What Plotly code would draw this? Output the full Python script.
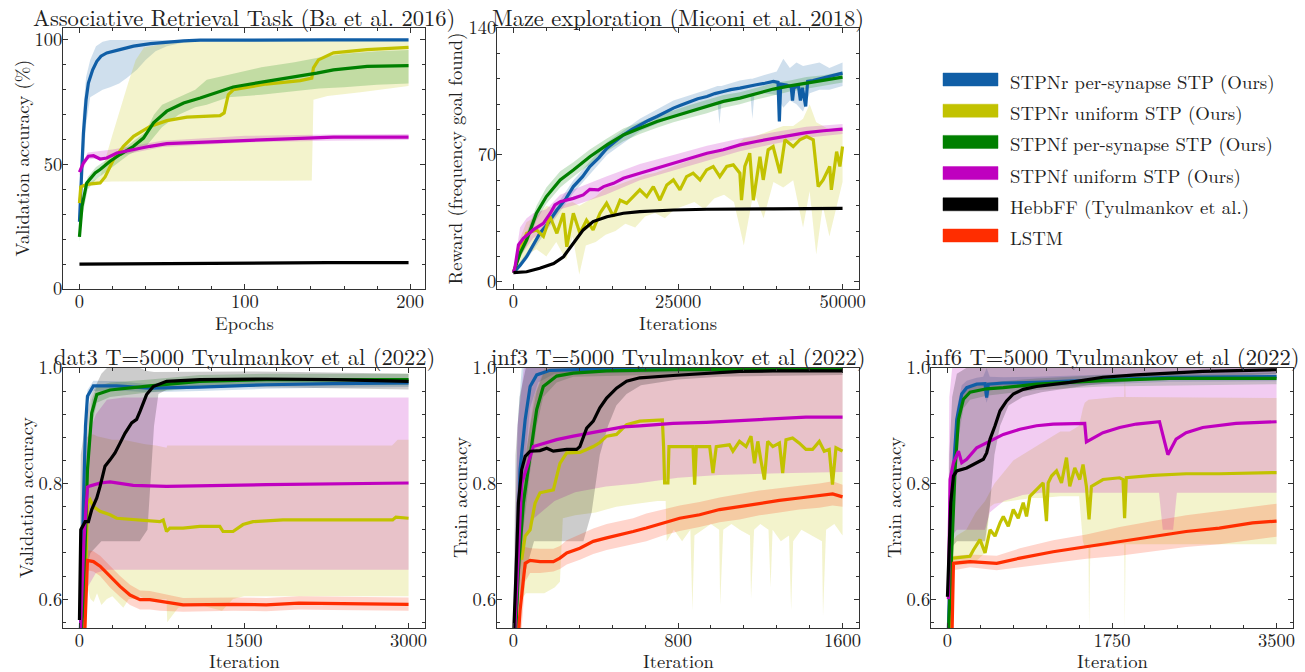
import plotly.graph_objects as go

# ---------------- colours / fonts ----------------
FONT = "Latin Modern Roman"
TXT = "#222222"
AX = "#333333"
C_BLUE = "#105ea6"
C_YEL = "#c2c200"
C_GRN = "#008000"
C_MAG = "#bf00bf"
C_BLK = "#000000"
C_RED = "#ff2d00"

LEGEND_LABELS = ["STPNr per-synapse STP (Ours)", "STPNr uniform STP (Ours)",
                 "STPNf per-synapse STP (Ours)", "STPNf uniform STP (Ours)",
                 "HebbFF (Tyulmankov et al.)", "LSTM"]

# ================= Panel 1: Associative Retrieval Task =================
ART_X_BLUE = [0, 1, 2.4, 4, 5.4, 8, 10.5, 13, 16.5, 25, 32.7, 43, 53, 63, 73, 100, 150, 199]
ART_Y_BLUE = [27, 45, 62.6, 76, 82.7, 88, 91.4, 93.5, 94.8, 96.2, 97.5, 98.5, 99.2, 99.6, 99.9, 100, 100, 100]
ART_BX_BLUE = [0, 2, 4, 6.5, 10, 14, 18.5, 24, 28.6, 34.7, 40, 46, 52.8, 63, 73, 199]
ART_LO_BLUE = [26, 45, 66, 77, 78.5, 80, 81, 82.5, 84.7, 88, 92, 95.5, 97.5, 99, 99.5, 99.8]
ART_HI_BLUE = [28, 70, 85, 92, 97.5, 99.3, 100, 100, 100, 100, 100, 100, 100, 100, 100, 100]

ART_X_YEL = [0, 0.8, 4.4, 12.5, 15.5, 20.6, 26.6, 32.7, 42.7, 52.8, 65, 85, 87.5, 90, 93, 113, 133.5, 140.5, 141.5, 144.5, 153.6, 173.8, 199]
ART_Y_YEL = [34.5, 41, 42, 42.6, 45, 52, 57.3, 61.3, 65.3, 67.6, 69, 69.6, 70.7, 78, 80, 82.3, 83.7, 84.7, 88.8, 92, 94.8, 96.1, 97]
ART_BX_YEL = [0, 1, 5, 12.5, 20, 29.6, 34, 39, 55, 80, 100, 120, 140.5, 141.5, 150, 170, 199]
ART_LO_YEL = [33, 40, 42, 43, 43.2, 43.2, 43.2, 43.3, 43.3, 43.3, 43.4, 43.5, 43.6, 76, 77.5, 79, 81.5]
ART_HI_YEL = [36, 42, 42.5, 45, 62, 83, 92, 97, 99, 99.5, 99.6, 99.6, 99.6, 99.6, 99.7, 99.7, 99.7]

ART_X_GRN = [0, 1.5, 4.4, 9.5, 12.5, 18.5, 24.6, 32.7, 38.7, 44.8, 52.8, 63, 73, 93, 113, 133.5, 143.5, 153.6, 174, 199]
ART_Y_GRN = [20.9, 33, 42.6, 46.6, 48, 51.3, 54, 57.3, 60.6, 66.7, 71.4, 74.7, 76.7, 81.1, 83.4, 85.4, 86.7, 88, 89.4, 89.7]
ART_BX_GRN = [0, 2, 5, 10, 20, 30, 40, 45, 50, 60, 70, 77, 90, 110, 130, 145, 160, 180, 199]
ART_LO_GRN = [19, 30, 40, 44, 49, 54, 57, 61, 65, 70, 73, 74, 77, 78, 79.5, 80.5, 81, 82, 82.5]
ART_HI_GRN = [23, 36, 45, 49, 53.5, 58, 63, 70, 74, 77, 80, 84, 86, 89, 91, 93, 94.5, 95.5, 96]

ART_X_MAG = [0, 2.4, 5.4, 8.5, 12.5, 16.5, 22.6, 32.7, 42.7, 52.8, 73, 93, 113, 133.5, 153.6, 180, 199]
ART_Y_MAG = [46.9, 50.6, 53.3, 53.5, 52.2, 52.6, 54.6, 56, 57.3, 58.4, 58.9, 59.6, 60.2, 60.6, 61, 61, 61]
ART_BX_MAG = [0, 5, 20, 50, 100, 150, 199]
ART_LO_MAG = [45.5, 52, 53, 57, 58.8, 59.5, 59.8]
ART_HI_MAG = [48.5, 54.8, 56, 59.5, 61.5, 62, 62.2]

ART_X_BLK = [0, 50, 100, 150, 199]
ART_Y_BLK = [10, 10.3, 10.5, 10.6, 10.6]

# ================= Panel 2: Maze exploration =================
MAZE_X_BLUE = [0, 1000, 2000, 3000, 4000, 5000, 6600, 8000, 9100, 10500, 11600, 13000, 14200, 15500, 16700,
               18000, 19200, 20500, 21800, 23000, 24300, 25500, 26800, 28000, 29400, 30600, 31900, 33000,
               34400, 35600, 36900, 38200, 39500, 40200, 40400, 40600, 41500, 42200, 42400, 42600, 43300,
               43600, 43900, 44400, 44700, 45500, 47100, 48500, 50000]
MAZE_Y_BLUE = [5, 9, 13.8, 20, 26.7, 31, 39.6, 46, 52.5, 58, 63.6, 68.5, 73.7, 77.5, 81,
               84, 86.6, 89, 91.2, 93.5, 95.8, 97.5, 99.5, 101, 102.2, 103.8, 105, 106,
               106.8, 107.8, 108.7, 109.5, 110.5, 110, 88.5, 109, 108.5, 107.5, 100, 107, 108,
               100, 107, 96.7, 110.5, 111, 112.4, 113.5, 115.1]
MAZE_BX_BLUE = [0, 2000, 5000, 9100, 14200, 19200, 24300, 29400, 31000, 31300, 31600, 34400, 36000, 36300,
                36600, 38000, 40000, 41000, 42000, 43000, 44000, 45000, 46500, 48000, 50000]
MAZE_LO_BLUE = [4, 12, 28, 49, 70, 83, 91, 97, 99, 87, 99, 101, 103, 90, 103, 104, 103, 96, 100, 98, 94, 104, 106, 106, 108]
MAZE_HI_BLUE = [6, 16, 34, 56, 77, 90, 100, 106, 108, 108, 108, 111, 112, 112, 112, 114, 116, 123, 118, 121, 119, 120, 121, 118, 121]

MAZE_X_YEL = [0, 1000, 2000, 3500, 4550, 5550, 6600, 7600, 8100, 9100, 10100, 11100, 12100, 13150, 14150,
              15200, 16200, 17200, 18200, 19200, 20250, 21250, 22250, 23300, 24300, 25300, 26300, 27300,
              28350, 29350, 30350, 31350, 32400, 33400, 34400, 34650, 35150, 35900, 36450, 37450, 37950,
              38700, 39450, 40500, 41250, 42500, 43500, 44550, 45550, 46300, 47050, 48050, 48300, 49100,
              49600, 50000]
MAZE_Y_YEL = [5, 17.5, 26.7, 28.6, 25, 36, 26.7, 37.8, 19.3, 37.8, 26.7, 34, 28.6, 37.8, 43.3,
              36, 45, 43.3, 47, 50.7, 47, 52.5, 45, 53.4, 56.2, 50.7, 58, 59.9,
              56.2, 61.7, 63.6, 58, 63.6, 64.5, 59.9, 45, 63.6, 70.9, 45, 69, 56.2,
              72.8, 74.6, 59.9, 78.3, 74.6, 78.3, 80.1, 78.3, 52.5, 56.2, 63.6, 50.7, 71.8,
              63.6, 74.6]
MAZE_BX_YEL = [0, 1000, 2000, 3500, 5000, 6500, 8000, 9000, 10000, 11000, 12500, 14000, 15500, 17000, 18500,
               20000, 21500, 23000, 24500, 26000, 27500, 29000, 30500, 32000, 33500, 35000, 36500, 38000,
               39500, 41000, 42500, 44000, 45000, 46000, 47000, 48000, 49000, 50000]
MAZE_LO_YEL = [4, 10, 15, 18, 14, 22, 12, 25, 4, 20, 22, 26, 28, 32, 30, 36, 38, 35, 40, 42, 44, 40, 46, 48, 44,
               20, 50, 35, 55, 52, 56, 30, 50, 15, 42, 25, 40, 55]
MAZE_HI_YEL = [6, 24, 33, 36, 42, 40, 43, 44, 42, 44, 47, 52, 53, 55, 57, 59, 60, 62, 64, 66, 68, 70, 72, 72, 74,
               79, 80, 82, 84, 86, 86, 90, 98, 88, 86, 84, 85, 85]

MAZE_X_GRN = [0, 1000, 2000, 3500, 5000, 7100, 9100, 11600, 14200, 16700, 19200, 21800, 24300, 26800, 29400,
              31900, 34400, 36900, 39500, 42000, 44500, 47100, 50000]
MAZE_Y_GRN = [5, 15.7, 23, 37.8, 47, 56.2, 61.7, 69, 75.5, 81, 84.7, 88.4, 91.2, 94, 96.7,
              99.5, 101.3, 103.7, 106.3, 108.1, 109.6, 110.9, 112.9]
MAZE_LO_GRN = [4, 13, 20, 34, 43, 52, 58, 65, 72, 77.5, 81.5, 85, 88, 90.5, 93, 96, 98, 100.5, 103, 105, 106.5, 108, 110]
MAZE_HI_GRN = [6, 19, 27, 42, 52, 61, 66, 73, 79, 84.5, 88, 92, 94.5, 97.5, 100.5, 103, 104.5, 107, 109.5, 111, 113, 114, 116]

MAZE_X_MAG = [0, 250, 760, 1500, 3000, 4550, 5600, 6300, 7100, 9100, 10600, 11600, 12900, 13700, 15200,
              16700, 19200, 21800, 24300, 26800, 29400, 31900, 34400, 36900, 39500, 42000, 44500, 47100, 50000]
MAZE_Y_MAG = [5, 8.3, 20.3, 24, 28.6, 32.2, 37.8, 42.4, 44.2, 46, 47.9, 51, 50.7, 52.5, 54.3,
              57.1, 59.9, 62.6, 65.4, 68.2, 70.9, 72.8, 75.5, 77.4, 79.2, 81, 82.3, 83.3, 84.2]
MAZE_BX_MAG = [0, 1000, 2000, 3000, 5000, 7100, 10000, 14000, 19200, 24300, 29400, 34400, 39500, 44500, 50000]
MAZE_LO_MAG = [4, 14, 19, 24, 29, 40, 43, 48, 56, 61.5, 67, 72, 76, 79.5, 81.5]
MAZE_HI_MAG = [6, 30, 35, 37.8, 40, 48, 52, 58, 65, 70, 75, 79, 82.5, 85.5, 87]

MAZE_X_BLK = [0, 2000, 4000, 6100, 7600, 9100, 10600, 12100, 14200, 16700, 19200, 24300, 29400, 39500, 50000]
MAZE_Y_BLK = [5, 5.5, 7.4, 10, 13.8, 21.2, 28.6, 33.2, 35.9, 37.8, 38.7, 39.6, 40, 40.2, 40.5]

# ================= Panel 3: dat3 =================
D3_X_BLUE = [0, 21, 36, 55, 73, 127, 340, 642, 1097, 1703, 2309, 3000]
D3_Y_BLUE = [0.5, 0.62, 0.766, 0.9, 0.951, 0.969, 0.969, 0.965, 0.967, 0.971, 0.973, 0.974]
D3_BX_BLUE = [0, 36, 55, 73, 127, 340, 642, 1097, 1703, 2309, 3000]
D3_LO_BLUE = [0.5, 0.74, 0.88, 0.94, 0.96, 0.961, 0.958, 0.96, 0.964, 0.966, 0.967]
D3_HI_BLUE = [0.5, 0.79, 0.92, 0.962, 0.978, 0.977, 0.972, 0.974, 0.978, 0.98, 0.981]

D3_X_YEL = [40, 73, 97, 127, 188, 279, 339, 491, 733, 764, 794, 824, 945, 1097, 1279, 1309, 1400, 1491, 1582,
            1855, 2309, 2855, 2885, 3000]
D3_Y_YEL = [0.5, 0.766, 0.772, 0.76, 0.752, 0.746, 0.74, 0.738, 0.734, 0.737, 0.717, 0.723, 0.723, 0.726,
            0.726, 0.717, 0.717, 0.729, 0.734, 0.737, 0.737, 0.737, 0.742, 0.74]
D3_BX_YEL = [40, 73, 100, 130, 160, 200, 250, 300, 350, 400, 450, 500, 550, 600, 700, 794, 800, 900, 1000,
             1100, 1300, 1400, 1500, 2000, 2500, 2850, 2900, 3000]
D3_LO_YEL = [0.5, 0.62, 0.6, 0.595, 0.61, 0.59, 0.6, 0.605, 0.595, 0.585, 0.6, 0.6, 0.605, 0.6, 0.598, 0.6,
             0.56, 0.585, 0.59, 0.59, 0.58, 0.6, 0.605, 0.605, 0.605, 0.605, 0.605, 0.605]
D3_HI_YEL = [0.55, 0.88, 0.885, 0.885, 0.882, 0.88, 0.878, 0.876, 0.876, 0.876, 0.875, 0.873, 0.87, 0.868,
             0.866, 0.862, 0.866, 0.866, 0.866, 0.866, 0.866, 0.866, 0.866, 0.866, 0.866, 0.866, 0.876, 0.876]

D3_X_GRN = [0, 36, 73, 112, 158, 279, 642, 1097, 1703, 3000]
D3_Y_GRN = [0.5, 0.593, 0.824, 0.922, 0.954, 0.962, 0.969, 0.977, 0.98, 0.98]
D3_LO_GRN = [0.5, 0.57, 0.79, 0.9, 0.94, 0.95, 0.958, 0.966, 0.97, 0.97]
D3_HI_GRN = [0.5, 0.62, 0.86, 0.945, 0.968, 0.975, 0.98, 0.988, 0.99, 0.99]

D3_X_MAG = [0, 40, 73, 100, 188, 279, 490, 794, 1703, 2309, 3000]
D3_Y_MAG = [0.5, 0.7, 0.794, 0.796, 0.801, 0.803, 0.797, 0.795, 0.798, 0.799, 0.801]
D3_BX_MAG = [0, 40, 73, 150, 250, 400, 3000]
D3_LO_MAG = [0.5, 0.55, 0.62, 0.645, 0.651, 0.651, 0.651]
D3_HI_MAG = [0.55, 0.8, 0.88, 0.92, 0.945, 0.949, 0.949]

D3_X_BLK = [0, 12, 52, 82, 112, 158, 188, 233, 279, 324, 370, 415, 476, 521, 552, 612, 673, 794, 1097, 1703, 2309, 3000]
D3_Y_BLK = [0.564, 0.72, 0.734, 0.734, 0.755, 0.775, 0.795, 0.83, 0.841, 0.853, 0.87, 0.887, 0.905, 0.911,
            0.925, 0.954, 0.968, 0.977, 0.98, 0.981, 0.98, 0.977]
D3_BX_BLK = [0, 12, 50, 100, 200, 300, 400, 500, 550, 620, 680, 720, 800, 1000, 1500, 2000, 2500, 3000]
D3_LO_BLK = [0.55, 0.6, 0.64, 0.68, 0.7, 0.7, 0.7, 0.7, 0.7, 0.72, 0.9, 0.955, 0.963, 0.966, 0.967, 0.966, 0.965, 0.963]
D3_HI_BLK = [0.58, 0.85, 0.9, 0.95, 0.99, 1.01, 1.01, 1.01, 1.0, 0.995, 0.993, 0.992, 0.992, 0.993, 0.994, 0.993, 0.992, 0.99]

D3_X_RED = [36, 50, 73, 127, 188, 279, 370, 461, 552, 642, 733, 945, 1400, 1703, 2000, 2309, 3000]
D3_Y_RED = [0.5, 0.55, 0.667, 0.665, 0.657, 0.639, 0.622, 0.607, 0.599, 0.599, 0.596, 0.59, 0.591, 0.59, 0.593, 0.592, 0.591]
D3_LO_RED = [0.5, 0.55, 0.65, 0.648, 0.64, 0.62, 0.604, 0.59, 0.582, 0.582, 0.58, 0.578, 0.58, 0.579, 0.582, 0.581, 0.58]
D3_HI_RED = [0.55, 0.65, 0.685, 0.683, 0.675, 0.658, 0.64, 0.625, 0.615, 0.614, 0.61, 0.602, 0.603, 0.602, 0.605, 0.604, 0.603]

# ================= Panel 4: inf3 =================
I3_X_BLUE = [0, 8, 32, 57, 81, 113, 178, 400, 800, 1600]
I3_Y_BLUE = [0.45, 0.5, 0.824, 0.911, 0.968, 0.988, 0.996, 0.998, 0.999, 0.999]
I3_BX_BLUE = [0, 20, 40, 60, 80, 120, 200, 1600]
I3_LO_BLUE = [0.45, 0.6, 0.75, 0.85, 0.93, 0.975, 0.99, 0.995]
I3_HI_BLUE = [0.55, 0.9, 1.0, 1.0, 1.0, 1.0, 1.0, 1.0]

I3_X_YEL = [40, 57, 81, 105, 129, 162, 194, 210, 226, 259, 323, 356, 388, 420, 453, 501, 550, 614, 679, 724,
            730, 735, 751, 756, 857, 873, 881, 889, 954, 970, 986, 1050, 1067, 1099, 1131, 1155, 1172, 1188,
            1204, 1220, 1236, 1261, 1293, 1309, 1325, 1357, 1390, 1422, 1454, 1487, 1511, 1535, 1551, 1568, 1600]
I3_Y_YEL = [0.668, 0.709, 0.72, 0.766, 0.784, 0.786, 0.789, 0.812, 0.835, 0.853, 0.854, 0.859, 0.864, 0.871,
            0.882, 0.885, 0.902, 0.908, 0.909, 0.91, 0.864, 0.801, 0.801, 0.864, 0.864, 0.864, 0.798, 0.864,
            0.864, 0.818, 0.864, 0.867, 0.856, 0.873, 0.864, 0.882, 0.835, 0.873, 0.838, 0.807, 0.873, 0.864,
            0.87, 0.818, 0.876, 0.879, 0.87, 0.859, 0.859, 0.873, 0.856, 0.859, 0.798, 0.862, 0.856]
I3_LX_YEL = [30, 40, 60, 100, 150, 200, 226, 240, 300, 400, 500, 600, 700, 740, 745, 780, 820, 860, 870, 880,
             920, 960, 1000, 1005, 1020, 1060, 1100, 1150, 1155, 1170, 1200, 1240, 1250, 1260, 1300, 1340, 1350,
             1360, 1400, 1450, 1500, 1505, 1520, 1560, 1600]
I3_LO_YEL = [0.5, 0.6, 0.61, 0.61, 0.61, 0.62, 0.63, 0.74, 0.745, 0.75, 0.76, 0.765, 0.77, 0.77, 0.7, 0.72,
             0.7, 0.72, 0.58, 0.71, 0.72, 0.73, 0.72, 0.59, 0.72, 0.73, 0.72, 0.71, 0.6, 0.72, 0.73, 0.72, 0.62,
             0.72, 0.7, 0.71, 0.58, 0.7, 0.72, 0.71, 0.7, 0.57, 0.72, 0.73, 0.71]
I3_HX_YEL = [30, 40, 60, 100, 150, 1600]
I3_HI_YEL = [0.55, 0.75, 0.85, 0.95, 1.0, 1.0]

I3_X_GRN = [0, 24, 48, 81, 113, 145, 210, 291, 453, 776, 1600]
I3_Y_GRN = [0.45, 0.651, 0.766, 0.853, 0.928, 0.968, 0.986, 0.991, 0.995, 0.997, 0.998]
I3_BX_GRN = [0, 24, 48, 81, 113, 145, 210, 291, 1600]
I3_LO_GRN = [0.45, 0.6, 0.72, 0.82, 0.9, 0.95, 0.975, 0.985, 0.995]
I3_HI_GRN = [0.5, 0.72, 0.82, 0.9, 0.96, 0.99, 0.997, 0.999, 1.0]

I3_X_MAG = [0, 40, 97, 129, 210, 291, 372, 453, 533, 614, 776, 937, 1099, 1261, 1422, 1600]
I3_Y_MAG = [0.5, 0.8, 0.864, 0.867, 0.876, 0.882, 0.887, 0.893, 0.898, 0.9, 0.904, 0.906, 0.909, 0.912, 0.915, 0.915]
I3_LX_MAG = [0, 20, 50, 100, 200, 300, 450, 600, 800, 1000, 1300, 1600]
I3_LO_MAG = [0.5, 0.6, 0.7, 0.74, 0.77, 0.785, 0.795, 0.8, 0.81, 0.815, 0.818, 0.82]
I3_HX_MAG = [0, 20, 50, 1600]
I3_HI_MAG = [0.55, 0.9, 1.0, 1.0]

I3_X_BLK = [0, 3, 13, 24, 40, 57, 81, 129, 162, 194, 259, 307, 323, 356, 388, 420, 453, 501, 550, 614, 776,
            937, 1099, 1261, 1600]
I3_Y_BLK = [0.5, 0.558, 0.651, 0.766, 0.824, 0.847, 0.856, 0.857, 0.861, 0.856, 0.859, 0.859, 0.864, 0.896,
            0.908, 0.931, 0.948, 0.965, 0.977, 0.983, 0.987, 0.991, 0.994, 0.995, 0.995]
I3_LX_BLK = [0, 10, 30, 60, 100, 200, 300, 340, 380, 420, 460, 500, 550, 620, 800, 1000, 1600]
I3_LO_BLK = [0.5, 0.55, 0.6, 0.65, 0.7, 0.7, 0.7, 0.7, 0.75, 0.85, 0.9, 0.935, 0.955, 0.97, 0.98, 0.985, 0.988]
I3_HX_BLK = [0, 10, 30, 60, 1600]
I3_HI_BLK = [0.55, 0.85, 0.95, 1.0, 1.0]

I3_X_RED = [8, 32, 57, 81, 129, 194, 226, 259, 323, 388, 453, 517, 582, 646, 727, 808, 905, 1002, 1099, 1196,
            1293, 1390, 1487, 1552, 1600]
I3_Y_RED = [0.45, 0.58, 0.662, 0.667, 0.665, 0.665, 0.671, 0.68, 0.688, 0.7, 0.706, 0.711, 0.717, 0.723, 0.732,
            0.74, 0.746, 0.755, 0.76, 0.766, 0.771, 0.775, 0.779, 0.782, 0.777]
I3_BX_RED = [20, 40, 57, 81, 129, 194, 226, 259, 323, 388, 453, 517, 582, 646, 727, 808, 905, 1002, 1099, 1196,
             1293, 1390, 1487, 1552, 1600]
I3_LO_RED = [0.5, 0.55, 0.63, 0.645, 0.645, 0.648, 0.652, 0.66, 0.668, 0.678, 0.685, 0.69, 0.695, 0.7, 0.71,
             0.718, 0.725, 0.733, 0.738, 0.745, 0.75, 0.755, 0.758, 0.762, 0.76]
I3_HI_RED = [0.6, 0.7, 0.69, 0.688, 0.687, 0.687, 0.692, 0.702, 0.712, 0.722, 0.73, 0.735, 0.74, 0.748, 0.755,
             0.762, 0.768, 0.776, 0.782, 0.788, 0.792, 0.796, 0.8, 0.804, 0.798]

# ================= Panel 5: inf6 =================
I6_X_BLUE = [0, 28, 64, 99, 152, 205, 311, 400, 417, 435, 594, 947, 1654, 2361, 3500]
I6_Y_BLUE = [0.5, 0.65, 0.824, 0.911, 0.955, 0.966, 0.972, 0.973, 0.949, 0.972, 0.974, 0.975, 0.98, 0.984, 0.985]
I6_BX_BLUE = [0, 28, 64, 99, 152, 205, 311, 380, 417, 450, 594, 947, 1654, 2361, 3500]
I6_LO_BLUE = [0.5, 0.6, 0.78, 0.89, 0.94, 0.955, 0.962, 0.962, 0.94, 0.962, 0.965, 0.967, 0.972, 0.976, 0.977]
I6_HI_BLUE = [0.55, 0.7, 0.86, 0.93, 0.97, 0.978, 0.983, 0.985, 1.0, 0.985, 0.984, 0.985, 0.988, 0.992, 0.993]

I6_X_YEL = [28, 46, 64, 240, 276, 346, 400, 453, 506, 559, 594, 647, 700, 753, 806, 841, 877, 947, 1018, 1053,
            1071, 1107, 1160, 1213, 1266, 1301, 1354, 1407, 1442, 1478, 1506, 1531, 1654, 1831, 1867, 1884, 1902,
            2185, 2538, 2892, 3500]
I6_Y_YEL = [0.5, 0.67, 0.671, 0.674, 0.685, 0.703, 0.68, 0.72, 0.709, 0.732, 0.743, 0.726, 0.755, 0.74, 0.767,
            0.743, 0.778, 0.79, 0.801, 0.735, 0.801, 0.813, 0.822, 0.801, 0.845, 0.795, 0.827, 0.807, 0.833, 0.795,
            0.738, 0.795, 0.807, 0.81, 0.807, 0.74, 0.81, 0.814, 0.817, 0.817, 0.819]
I6_LX_YEL = [30, 50, 100, 200, 300, 400, 453, 500, 600, 700, 800, 900, 1000, 1100, 1200, 1300, 1400, 1440, 1460,
             1500, 1506, 1520, 1600, 1800, 1880, 1886, 1895, 3500]
I6_LO_YEL = [0.5, 0.66, 0.66, 0.66, 0.665, 0.68, 0.76, 0.765, 0.768, 0.77, 0.772, 0.775, 0.775, 0.777, 0.778,
             0.778, 0.778, 0.7, 0.69, 0.69, 0.55, 0.69, 0.69, 0.695, 0.695, 0.55, 0.695, 0.695]
I6_HX_YEL = [30, 50, 100, 200, 300, 400, 500, 600, 700, 800, 900, 1000, 1100, 1200, 1300, 1400, 1440, 1460, 1500,
             1800, 1880, 1886, 1895, 3500]
I6_HI_YEL = [0.55, 0.7, 0.71, 0.72, 0.75, 0.77, 0.8, 0.82, 0.84, 0.85, 0.86, 0.87, 0.88, 0.89, 0.89, 0.9, 0.93,
             0.94, 0.945, 0.95, 0.95, 0.99, 0.95, 0.948]

I6_X_GRN = [0, 46, 81, 117, 170, 240, 417, 594, 947, 1654, 2361, 3500]
I6_Y_GRN = [0.5, 0.68, 0.824, 0.911, 0.946, 0.958, 0.964, 0.966, 0.972, 0.978, 0.982, 0.982]
I6_BX_GRN = [0, 46, 81, 117, 170, 240, 417, 947, 1654, 3500]
I6_LO_GRN = [0.5, 0.64, 0.78, 0.88, 0.93, 0.945, 0.952, 0.962, 0.968, 0.972]
I6_HI_GRN = [0.55, 0.72, 0.86, 0.93, 0.958, 0.97, 0.975, 0.982, 0.988, 0.992]

I6_X_MAG = [10, 28, 64, 117, 152, 205, 311, 417, 594, 771, 947, 1124, 1301, 1460, 1478, 1548, 1654, 1831, 2008,
            2255, 2291, 2344, 2432, 2538, 2715, 3068, 3500]
I6_Y_MAG = [0.6, 0.807, 0.836, 0.856, 0.836, 0.842, 0.862, 0.871, 0.885, 0.894, 0.9, 0.903, 0.904, 0.904, 0.872,
            0.879, 0.888, 0.897, 0.903, 0.907, 0.882, 0.85, 0.877, 0.888, 0.897, 0.904, 0.907]
I6_LX_MAG = [0, 20, 50, 100, 400, 450, 600, 800, 1000, 2250, 2290, 2400, 2440, 3500]
I6_LO_MAG = [0.5, 0.65, 0.71, 0.72, 0.72, 0.75, 0.77, 0.78, 0.784, 0.784, 0.72, 0.72, 0.784, 0.784]
I6_HX_MAG = [0, 20, 50, 3500]
I6_HI_MAG = [0.6, 0.95, 1.0, 1.0]

I6_X_BLK = [0, 18, 35, 64, 99, 205, 311, 382, 417, 453, 506, 559, 629, 700, 806, 947, 1301, 1654, 2008, 2361,
            2715, 3500]
I6_Y_BLK = [0.604, 0.709, 0.767, 0.813, 0.822, 0.827, 0.836, 0.842, 0.853, 0.877, 0.9, 0.926, 0.943, 0.955,
            0.963, 0.968, 0.975, 0.984, 0.988, 0.991, 0.994, 0.997]
I6_LX_BLK = [0, 20, 50, 100, 200, 300, 400, 450, 500, 560, 650, 800, 1000, 1500, 2000, 3500]
I6_LO_BLK = [0.55, 0.62, 0.69, 0.7, 0.7, 0.7, 0.7, 0.76, 0.85, 0.9, 0.935, 0.95, 0.958, 0.97, 0.978, 0.99]
I6_HX_BLK = [0, 20, 50, 100, 200, 3500]
I6_HI_BLK = [0.62, 0.85, 0.95, 0.99, 1.0, 1.0]

I6_X_RED = [0, 50, 64, 240, 524, 771, 1124, 1478, 1831, 2185, 2538, 2892, 3245, 3500]
I6_Y_RED = [0.5, 0.55, 0.662, 0.665, 0.662, 0.671, 0.682, 0.691, 0.7, 0.709, 0.717, 0.723, 0.732, 0.735]
I6_BX_RED = [40, 64, 240, 524, 771, 1124, 1478, 1831, 2185, 2538, 2892, 3245, 3500]
I6_LO_RED = [0.55, 0.65, 0.655, 0.65, 0.655, 0.662, 0.67, 0.675, 0.683, 0.69, 0.695, 0.703, 0.708]
I6_HI_RED = [0.6, 0.675, 0.677, 0.675, 0.688, 0.702, 0.712, 0.725, 0.735, 0.745, 0.752, 0.76, 0.765]

# ---------------- figure helpers ----------------
W, H = 1305, 672


def px(x):
    return x / W


def py(y):
    return 1 - y / H


def rgba(hexc, a):
    h = hexc.lstrip("#")
    return "rgba(%d,%d,%d,%.3f)" % (int(h[0:2], 16), int(h[2:4], 16), int(h[4:6], 16), a)


fig = go.Figure()


def band(ax, xlo, lo, xhi, hi, color, alpha=0.2):
    xs = list(xlo) + list(xhi)[::-1]
    ys = list(lo) + list(hi)[::-1]
    fig.add_trace(go.Scatter(x=xs, y=ys, mode="lines", fill="toself", fillcolor=rgba(color, alpha),
                             line=dict(width=0, color=rgba(color, 0)), hoverinfo="skip", showlegend=False,
                             xaxis="x" + ax, yaxis="y" + ax))


def line(ax, x, y, color, w=3.2):
    fig.add_trace(go.Scatter(x=x, y=y, mode="lines", line=dict(color=color, width=w), showlegend=False,
                             xaxis="x" + ax, yaxis="y" + ax))


# Panel 1
a = ""
band(a, ART_BX_BLUE, ART_LO_BLUE, ART_BX_BLUE, ART_HI_BLUE, C_BLUE)
band(a, ART_BX_YEL, ART_LO_YEL, ART_BX_YEL, ART_HI_YEL, C_YEL)
band(a, ART_BX_GRN, ART_LO_GRN, ART_BX_GRN, ART_HI_GRN, C_GRN)
band(a, ART_BX_MAG, ART_LO_MAG, ART_BX_MAG, ART_HI_MAG, C_MAG)
line(a, ART_X_BLUE, ART_Y_BLUE, C_BLUE)
line(a, ART_X_YEL, ART_Y_YEL, C_YEL)
line(a, ART_X_GRN, ART_Y_GRN, C_GRN)
line(a, ART_X_MAG, ART_Y_MAG, C_MAG)
line(a, ART_X_BLK, ART_Y_BLK, C_BLK)

# Panel 2
a = "2"
band(a, MAZE_BX_BLUE, MAZE_LO_BLUE, MAZE_BX_BLUE, MAZE_HI_BLUE, C_BLUE)
band(a, MAZE_BX_YEL, MAZE_LO_YEL, MAZE_BX_YEL, MAZE_HI_YEL, C_YEL)
band(a, MAZE_X_GRN, MAZE_LO_GRN, MAZE_X_GRN, MAZE_HI_GRN, C_GRN)
band(a, MAZE_BX_MAG, MAZE_LO_MAG, MAZE_BX_MAG, MAZE_HI_MAG, C_MAG)
line(a, MAZE_X_BLUE, MAZE_Y_BLUE, C_BLUE)
line(a, MAZE_X_YEL, MAZE_Y_YEL, C_YEL)
line(a, MAZE_X_GRN, MAZE_Y_GRN, C_GRN)
line(a, MAZE_X_MAG, MAZE_Y_MAG, C_MAG)
line(a, MAZE_X_BLK, MAZE_Y_BLK, C_BLK)

# Panel 3
a = "3"
band(a, D3_BX_BLUE, D3_LO_BLUE, D3_BX_BLUE, D3_HI_BLUE, C_BLUE)
band(a, D3_BX_YEL, D3_LO_YEL, D3_BX_YEL, D3_HI_YEL, C_YEL)
band(a, D3_X_GRN, D3_LO_GRN, D3_X_GRN, D3_HI_GRN, C_GRN)
band(a, D3_BX_MAG, D3_LO_MAG, D3_BX_MAG, D3_HI_MAG, C_MAG)
band(a, D3_BX_BLK, D3_LO_BLK, D3_BX_BLK, D3_HI_BLK, C_BLK)
band(a, D3_X_RED, D3_LO_RED, D3_X_RED, D3_HI_RED, C_RED)
line(a, D3_X_BLUE, D3_Y_BLUE, C_BLUE)
line(a, D3_X_YEL, D3_Y_YEL, C_YEL)
line(a, D3_X_GRN, D3_Y_GRN, C_GRN)
line(a, D3_X_MAG, D3_Y_MAG, C_MAG)
line(a, D3_X_BLK, D3_Y_BLK, C_BLK)
line(a, D3_X_RED, D3_Y_RED, C_RED)

# Panel 4
a = "4"
band(a, I3_BX_BLUE, I3_LO_BLUE, I3_BX_BLUE, I3_HI_BLUE, C_BLUE)
band(a, I3_LX_YEL, I3_LO_YEL, I3_HX_YEL, I3_HI_YEL, C_YEL)
band(a, I3_BX_GRN, I3_LO_GRN, I3_BX_GRN, I3_HI_GRN, C_GRN)
band(a, I3_LX_MAG, I3_LO_MAG, I3_HX_MAG, I3_HI_MAG, C_MAG)
band(a, I3_LX_BLK, I3_LO_BLK, I3_HX_BLK, I3_HI_BLK, C_BLK)
band(a, I3_BX_RED, I3_LO_RED, I3_BX_RED, I3_HI_RED, C_RED)
line(a, I3_X_BLUE, I3_Y_BLUE, C_BLUE)
line(a, I3_X_YEL, I3_Y_YEL, C_YEL)
line(a, I3_X_GRN, I3_Y_GRN, C_GRN)
line(a, I3_X_MAG, I3_Y_MAG, C_MAG)
line(a, I3_X_BLK, I3_Y_BLK, C_BLK)
line(a, I3_X_RED, I3_Y_RED, C_RED)

# Panel 5
a = "5"
band(a, I6_BX_BLUE, I6_LO_BLUE, I6_BX_BLUE, I6_HI_BLUE, C_BLUE)
band(a, I6_LX_YEL, I6_LO_YEL, I6_HX_YEL, I6_HI_YEL, C_YEL)
band(a, I6_BX_GRN, I6_LO_GRN, I6_BX_GRN, I6_HI_GRN, C_GRN)
band(a, I6_LX_MAG, I6_LO_MAG, I6_HX_MAG, I6_HI_MAG, C_MAG)
band(a, I6_LX_BLK, I6_LO_BLK, I6_HX_BLK, I6_HI_BLK, C_BLK)
band(a, I6_BX_RED, I6_LO_RED, I6_BX_RED, I6_HI_RED, C_RED)
line(a, I6_X_BLUE, I6_Y_BLUE, C_BLUE)
line(a, I6_X_YEL, I6_Y_YEL, C_YEL)
line(a, I6_X_GRN, I6_Y_GRN, C_GRN)
line(a, I6_X_MAG, I6_Y_MAG, C_MAG)
line(a, I6_X_BLK, I6_Y_BLK, C_BLK)
line(a, I6_X_RED, I6_Y_RED, C_RED)

# ---------------- axes ----------------
TICKFONT = dict(family=FONT, size=18.5, color=TXT)


def axis(domain, rng, tickvals, ticktext, minor, anchor):
    return dict(domain=domain, range=rng, anchor=anchor, automargin=False, showline=True, linecolor=AX,
                linewidth=1.3, mirror="allticks", ticks="inside", ticklen=5, tickwidth=1, tickcolor=AX,
                tickmode="array", tickvals=tickvals, ticktext=ticktext, tickfont=TICKFONT,
                ticklabelstandoff=-4, showgrid=False, zeroline=False,
                minor=dict(ticks="inside", ticklen=2.5, tickwidth=1, tickcolor=AX, dtick=minor, tick0=0,
                           showgrid=False))


TOP = [py(289), py(28)]
BOT = [py(628), py(368)]
C1 = [px(63), px(425)]
C2 = [px(497), px(859)]
C3 = [px(931), px(1293)]
ACC_T = [0.6, 0.8, 1.0]
ACC_L = ["0.6", "0.8", "1.0"]

fig.update_layout(
    xaxis=axis(C1, [-9.95, 208.95], [0, 100, 200], ["0", "100", "200"], 20, "y"),
    yaxis=axis(TOP, [0, 104.8], [0, 50, 100], ["0", "50", "100"], 10, "x"),
    xaxis2=axis(C2, [-2500, 52500], [0, 25000, 50000], ["0", "25000", "50000"], 5000, "y2"),
    yaxis2=axis(TOP, [-4, 140], [0, 70, 140], ["0", "70", "140"], 14, "x2"),
    xaxis3=axis(C1, [-150, 3150], [0, 1500, 3000], ["0", "1500", "3000"], 300, "y3"),
    yaxis3=axis(BOT, [0.55, 1.0], ACC_T, ACC_L, 0.04, "x3"),
    xaxis4=axis(C2, [-80, 1680], [0, 800, 1600], ["0", "800", "1600"], 160, "y4"),
    yaxis4=axis(BOT, [0.55, 1.0], ACC_T, ACC_L, 0.04, "x4"),
    xaxis5=axis(C3, [-175, 3675], [0, 1750, 3500], ["0", "1750", "3500"], 350, "y5"),
    yaxis5=axis(BOT, [0.55, 1.0], ACC_T, ACC_L, 0.04, "x5"),
)

# ---------------- text annotations ----------------
ann = []


def text(x, y, s, size, angle=0, xanchor="center"):
    ann.append(dict(x=px(x), y=py(y), xref="paper", yref="paper", text=s, showarrow=False,
                    textangle=angle, xanchor=xanchor, yanchor="middle",
                    font=dict(family=FONT, size=size, color=TXT)))


TITLE_SIZE = 22.5
LAB_SIZE = 18.6
text(244, 17, "Associative Retrieval Task (Ba et al. 2016)", TITLE_SIZE)
text(678, 17, "Maze exploration (Miconi et al. 2018)", TITLE_SIZE)
text(244, 356, "dat3 T=5000 Tyulmankov et al (2022)", TITLE_SIZE)
text(678, 356, "inf3 T=5000 Tyulmankov et al (2022)", TITLE_SIZE)
text(1112, 356, "inf6 T=5000 Tyulmankov et al (2022)", TITLE_SIZE)

text(244, 322, "Epochs", LAB_SIZE)
text(678, 322, "Iterations", LAB_SIZE)
text(244, 659.5, "Iteration", LAB_SIZE)
text(678, 659.5, "Iteration", LAB_SIZE)
text(1112, 659.5, "Iteration", LAB_SIZE)

text(20, 158.5, "Validation accuracy (%)", LAB_SIZE, -90)
text(453, 158.5, "Reward (frequency goal found)", LAB_SIZE, -90)
text(25, 498, "Validation accuracy", LAB_SIZE, -90)
text(459, 498, "Train accuracy", LAB_SIZE, -90)
text(893, 498, "Train accuracy", LAB_SIZE, -90)

# ---------------- legend (manual, matches wide swatches) ----------------
LEG_COLORS = [C_BLUE, C_YEL, C_GRN, C_MAG, C_BLK, C_RED]
shapes = []
for i, (lab, col) in enumerate(zip(LEGEND_LABELS, LEG_COLORS)):
    cy = 79.5 + i * 31.2
    shapes.append(dict(type="rect", xref="paper", yref="paper", x0=px(943), x1=px(998),
                       y0=py(cy + 6.5), y1=py(cy - 6.5), fillcolor=col,
                       line=dict(color=rgba(col, 0.45), width=1)))
    text(1008, cy + 1.5, lab, 18.8, xanchor="left")

fig.update_layout(width=W, height=H, margin=dict(l=0, r=0, t=0, b=0), plot_bgcolor="white",
                  paper_bgcolor="white", showlegend=False, annotations=ann, shapes=shapes)

# the page's default 8px body margin would push the fixed-size figure out of the window
fig.write_html("out.html", config={"displayModeBar": False},
               post_script="document.body.style.margin='0';")
